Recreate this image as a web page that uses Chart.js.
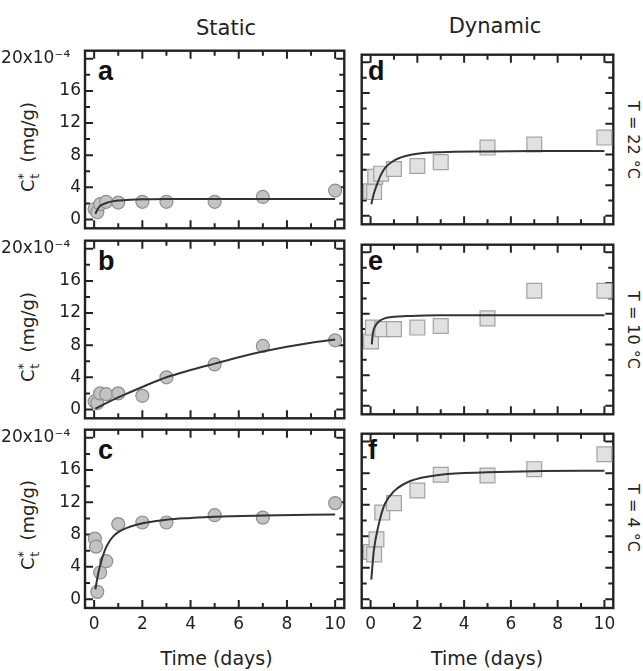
<!DOCTYPE html>
<html>
<head>
<meta charset="utf-8">
<script src="https://cdn.jsdelivr.net/npm/chart.js@4"></script>
<style>
  body { margin: 0; background: #fff; width: 643px; height: 671px; position: relative; overflow: hidden; font-family: 'DejaVu Sans', sans-serif; color: #222; }
  canvas { position: absolute; }
  .lbl { position: absolute; white-space: nowrap; transform: translate(-50%, -50%); }
  .rot { transform: translate(-50%, -50%) rotate(-90deg); }
  .rotR { transform: translate(-50%, -50%) rotate(90deg); }
  .letter { position: absolute; font-family: 'Liberation Sans', Arial, sans-serif; font-weight: bold; font-size: 27px; color: #111; }
  sup, sub { font-size: 70%; line-height: 0; }
</style>
</head>
<body>
<div class="lbl" style="left:226px;top:28px;font-size:21px;">Static</div>
<div class="lbl" style="left:495px;top:26px;font-size:21px;">Dynamic</div>
<div id="labels"></div>
<script>
// --- data (concentration in units of 1e-4 mg/g, time in days) ---
const X_TICKS = [0, 2, 4, 6, 8, 10];
const X_MINOR = [1, 3, 5, 7, 9];
const Y_TICKS = [0, 4, 8, 12, 16, 20];
const Y_MINOR = [2, 6, 10, 14, 18];
const PANEL_LETTERS = ['a', 'b', 'c', 'd', 'e', 'f'];
const TEMPS = ['T = 22 °C', 'T = 10 °C', 'T = 4 °C'];

// static (circles)
const STATIC_22_T = [0.02, 0.13, 0.25, 0.5, 1, 2, 3, 5, 7, 10];
const STATIC_22_C = [1.3, 0.9, 1.9, 2.2, 2.1, 2.2, 2.2, 2.2, 2.8, 3.6];
const STATIC_22_FIT_T = [0.05, 0.15, 0.25, 0.5, 0.75, 1, 1.5, 2, 3, 5, 7, 10];
const STATIC_22_FIT_C = [0.7, 1.3, 1.7, 2.05, 2.25, 2.35, 2.45, 2.5, 2.55, 2.55, 2.55, 2.55];

const STATIC_10_T = [0.02, 0.13, 0.25, 0.5, 1, 2, 3, 5, 7, 10];
const STATIC_10_C = [1.0, 0.8, 2.0, 1.9, 2.0, 1.7, 4.0, 5.6, 7.9, 8.6];
const STATIC_10_FIT_T = [0.05, 0.5, 1, 2, 3, 4, 5, 6, 7, 8, 9, 10];
const STATIC_10_FIT_C = [0.1, 0.8, 1.5, 2.8, 4.0, 4.9, 5.7, 6.5, 7.2, 7.8, 8.3, 8.7];

const STATIC_4_T = [0.03, 0.08, 0.13, 0.25, 0.5, 1, 2, 3, 5, 7, 10];
const STATIC_4_C = [7.5, 6.5, 0.9, 3.3, 4.7, 9.3, 9.5, 9.5, 10.4, 10.1, 11.9];
const STATIC_4_FIT_T = [0.05, 0.15, 0.25, 0.45, 0.6, 0.8, 1, 1.33, 1.8, 2.5, 3, 4, 5, 7, 10];
const STATIC_4_FIT_C = [1.2, 2.9, 4.2, 6.1, 7.0, 7.8, 8.3, 8.8, 9.25, 9.65, 9.85, 10.05, 10.2, 10.35, 10.5];

// dynamic (squares)
const DYN_22_T = [0.02, 0.15, 0.2, 0.45, 1, 2, 3, 5, 7, 10];
const DYN_22_C = [3.2, 3.1, 5.1, 5.5, 6.1, 6.5, 7.0, 8.9, 9.3, 10.2];
const DYN_22_FIT_T = [0.03, 0.15, 0.3, 0.45, 0.63, 1, 1.5, 2, 3, 5, 7, 10];
const DYN_22_FIT_C = [1.5, 3.0, 4.3, 5.4, 6.3, 7.2, 7.8, 8.1, 8.3, 8.4, 8.45, 8.45];

const DYN_10_T = [0.02, 0.1, 0.5, 1, 2, 3, 5, 7, 10];
const DYN_10_C = [8.4, 10.2, 10.0, 10.0, 10.2, 10.4, 11.4, 15.0, 15.0];
const DYN_10_FIT_T = [0.05, 0.1, 0.2, 0.4, 0.6, 1, 1.5, 2, 3, 5, 10];
const DYN_10_FIT_C = [8.0, 9.5, 10.4, 11.1, 11.4, 11.6, 11.7, 11.75, 11.8, 11.8, 11.8];

const DYN_4_T = [0.02, 0.15, 0.25, 0.5, 1, 2, 3, 5, 7, 10];
const DYN_4_C = [6.0, 5.7, 7.6, 11.0, 12.2, 13.8, 15.8, 15.7, 16.5, 18.4];
const DYN_4_FIT_T = [0.03, 0.14, 0.34, 0.61, 1.02, 1.7, 3, 5, 7, 10];
const DYN_4_FIT_C = [2.5, 6.2, 9.4, 12.1, 13.75, 15.0, 15.8, 16.1, 16.25, 16.3];

const pts = (xs, ys) => xs.map((x, i) => ({ x: x, y: ys[i] }));

// panel frames in page pixels
const COLS = [{ left: 85, right: 348 }, { left: 355, right: 619 }];
const ROWS = [{ top: 49, bottom: 230 }, { top: 239, bottom: 420 }, { top: 428, bottom: 608 }];

const panels = [
    { row: 0, col: 0, t: STATIC_22_T, c: STATIC_22_C, ft: STATIC_22_FIT_T, fc: STATIC_22_FIT_C },
    { row: 1, col: 0, t: STATIC_10_T, c: STATIC_10_C, ft: STATIC_10_FIT_T, fc: STATIC_10_FIT_C },
    { row: 2, col: 0, t: STATIC_4_T, c: STATIC_4_C, ft: STATIC_4_FIT_T, fc: STATIC_4_FIT_C },
    { row: 0, col: 1, t: DYN_22_T, c: DYN_22_C, ft: DYN_22_FIT_T, fc: DYN_22_FIT_C },
    { row: 1, col: 1, t: DYN_10_T, c: DYN_10_C, ft: DYN_10_FIT_T, fc: DYN_10_FIT_C },
    { row: 2, col: 1, t: DYN_4_T, c: DYN_4_C, ft: DYN_4_FIT_T, fc: DYN_4_FIT_C }
];

// frame box with inward ticks on all sides (drawn under the markers)
const framePlugin = {
    id: 'frame',
    beforeDatasetsDraw(chart) {
        const { ctx, chartArea: a } = chart;
        const xs = chart.scales.x;
        const ys = chart.scales.y;
        ctx.save();
        ctx.strokeStyle = '#222';
        ctx.lineWidth = 2.4;
        ctx.strokeRect(a.left, a.top, a.right - a.left, a.bottom - a.top);
        ctx.lineWidth = 2;
        ctx.beginPath();
        const tickX = (v, len) => {
            const px = xs.getPixelForValue(v);
            ctx.moveTo(px, a.bottom); ctx.lineTo(px, a.bottom - len);
            ctx.moveTo(px, a.top); ctx.lineTo(px, a.top + len);
        };
        const tickY = (v, len) => {
            const py = ys.getPixelForValue(v);
            ctx.moveTo(a.left, py); ctx.lineTo(a.left + len, py);
            ctx.moveTo(a.right, py); ctx.lineTo(a.right - len, py);
        };
        X_TICKS.forEach(v => tickX(v, 8));
        X_MINOR.forEach(v => tickX(v, 5));
        Y_TICKS.forEach(v => tickY(v, 8));
        Y_MINOR.forEach(v => tickY(v, 5));
        ctx.stroke();
        ctx.restore();
    }
};

const labelsDiv = document.getElementById('labels');

panels.forEach((p, idx) => {
    const col = COLS[p.col];
    const row = ROWS[p.row];
    const bottomRow = p.row === 2;
    const canvasLeft = p.col === 0 ? 0 : 350;
    const canvasRight = p.col === 0 ? 352 : 625;
    const canvasTop = row.top - 6;
    const xAxisH = bottomRow ? 34 : 0;
    const canvasBottom = row.bottom + (bottomRow ? xAxisH : 6);

    const canvas = document.createElement('canvas');
    canvas.width = canvasRight - canvasLeft;
    canvas.height = canvasBottom - canvasTop;
    canvas.style.left = canvasLeft + 'px';
    canvas.style.top = canvasTop + 'px';
    document.body.appendChild(canvas);

    const isStatic = p.col === 0;

    new Chart(canvas.getContext('2d'), {
        type: 'scatter',
        data: {
            datasets: [
                {
                    data: pts(p.ft, p.fc),
                    showLine: true,
                    borderColor: '#333',
                    borderWidth: 2,
                    pointRadius: 0,
                    cubicInterpolationMode: 'monotone',
                    clip: false
                },
                {
                    data: pts(p.t, p.c),
                    pointStyle: isStatic ? 'circle' : 'rect',
                    pointRadius: isStatic ? 6.5 : 10.5,
                    backgroundColor: isStatic ? '#c3c3c3' : '#e1e1e1',
                    borderColor: isStatic ? '#8e8e8e' : '#a3a3a3',
                    borderWidth: 1.2,
                    clip: false
                }
            ]
        },
        options: {
            responsive: false,
            animation: false,
            events: [],
            layout: {
                padding: {
                    top: 6,
                    bottom: bottomRow ? 0 : 6,
                    right: canvasRight - col.right,
                    left: 0
                }
            },
            plugins: { legend: { display: false }, tooltip: { enabled: false } },
            scales: {
                x: {
                    type: 'linear',
                    min: -0.38,
                    max: 10.38,
                    grid: { display: false, drawTicks: false },
                    border: { display: false },
                    afterBuildTicks: s => { s.ticks = X_TICKS.map(v => ({ value: v })); },
                    afterFit: s => {
                        s.height = xAxisH;
                        s.paddingLeft = 0;
                        s.paddingRight = 0;
                    },
                    ticks: {
                        display: bottomRow,
                        padding: 6,
                        color: '#222',
                        maxRotation: 0,
                        font: { family: 'DejaVu Sans', size: 17 }
                    }
                },
                y: {
                    type: 'linear',
                    min: -1.1,
                    max: 21,
                    grid: { display: false, drawTicks: false },
                    border: { display: false },
                    afterBuildTicks: s => { s.ticks = Y_TICKS.map(v => ({ value: v })); },
                    afterFit: s => {
                        s.width = col.left - canvasLeft;
                        s.paddingTop = 0;
                        s.paddingBottom = 0;
                    },
                    ticks: {
                        display: isStatic,
                        padding: 4,
                        color: '#222',
                        font: { family: 'DejaVu Sans', size: 17 },
                        callback: v => v === 20 ? '20x10\u207B\u2074  ' : String(v)
                    }
                }
            }
        },
        plugins: [framePlugin]
    });

    // panel letter
    const letter = document.createElement('div');
    letter.className = 'letter';
    letter.textContent = PANEL_LETTERS[idx];
    letter.style.left = (col.left + 13) + 'px';
    letter.style.top = (row.top + 7) + 'px';
    labelsDiv.appendChild(letter);
});

ROWS.forEach((row, r) => {
    const mid = (row.top + row.bottom) / 2;
    const yt = document.createElement('div');
    yt.className = 'lbl rot';
    yt.style.left = '27px';
    yt.style.top = (mid + 7) + 'px';
    yt.style.fontSize = '18px';
    yt.innerHTML = 'C<sup>*</sup><sub style="margin-left:-0.45em">t</sub>&nbsp; (mg/g)';
    labelsDiv.appendChild(yt);

    const tl = document.createElement('div');
    tl.className = 'lbl rotR';
    tl.style.left = '633px';
    tl.style.top = mid + 'px';
    tl.style.fontSize = '16px';
    tl.textContent = TEMPS[r];
    labelsDiv.appendChild(tl);
});

COLS.forEach(col => {
    const xt = document.createElement('div');
    xt.className = 'lbl';
    xt.style.left = ((col.left + col.right) / 2) + 'px';
    xt.style.top = '658px';
    xt.style.fontSize = '19px';
    xt.textContent = 'Time (days)';
    labelsDiv.appendChild(xt);
});
</script>
</body>
</html>
